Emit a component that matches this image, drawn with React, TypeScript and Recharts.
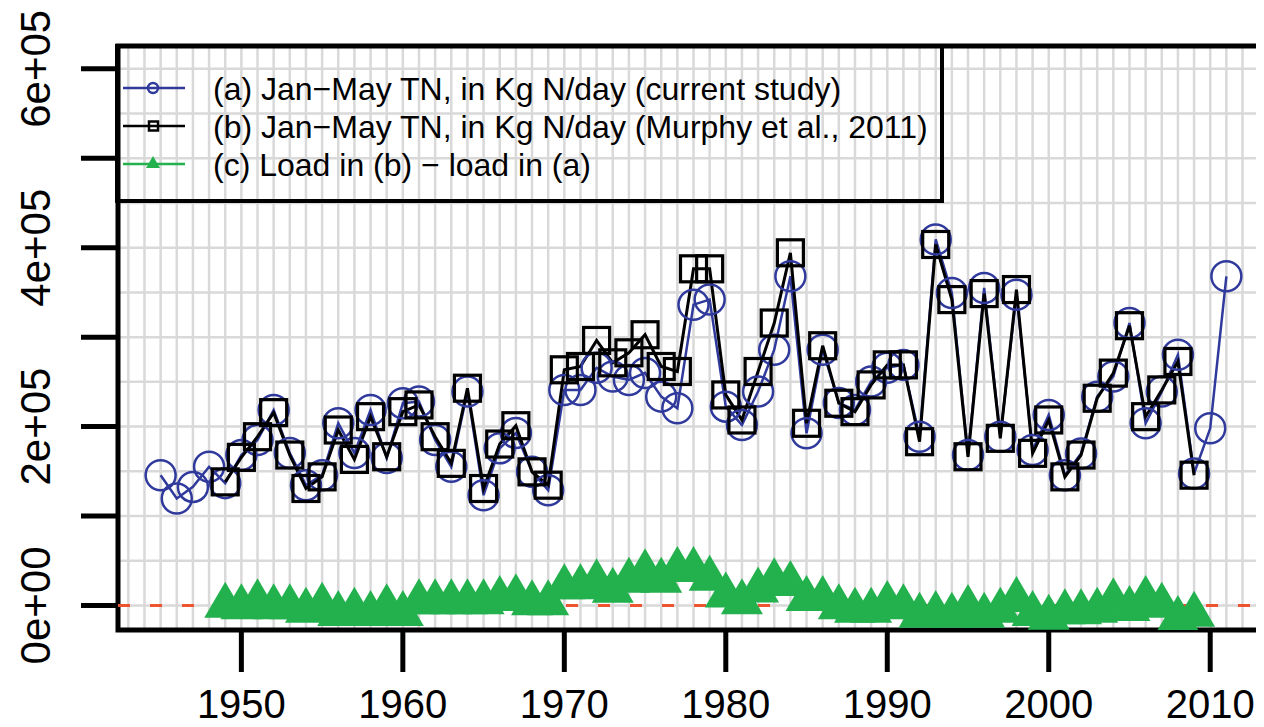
import React from 'react';
import { ComposedChart, Line, XAxis, YAxis, CartesianGrid, ReferenceArea, Legend } from 'recharts';

const FONT = '"Liberation Sans", Arial, Helvetica, sans-serif';
const BLUE = '#2f3a9c';
const BLACK = '#000000';
const GREEN = '#22b14c';
const RED = '#ef5430';

// (a) current study, Jan-May TN (kg N/day)
const yearsA = [1945, 1946, 1947, 1948, 1949, 1950, 1951, 1952, 1953, 1954, 1955, 1956, 1957, 1958, 1959, 1960,
  1961, 1962, 1963, 1964, 1965, 1966, 1967, 1968, 1969, 1970, 1971, 1972, 1973, 1974, 1975, 1976, 1977, 1978,
  1979, 1980, 1981, 1982, 1983, 1984, 1985, 1986, 1987, 1988, 1989, 1990, 1991, 1992, 1993, 1994, 1995, 1996,
  1997, 1998, 1999, 2000, 2001, 2002, 2003, 2004, 2005, 2006, 2007, 2008, 2009, 2010, 2011];
const loadA = [145700, 119600, 132600, 155100, 136800, 168200, 185000, 218600, 170400, 134500, 145700, 203700,
  170400, 218600, 164800, 226100, 228000, 185000, 155000, 239100, 123300, 175700, 192800, 149400, 128900,
  241000, 241000, 265700, 256000, 252200, 260000, 233500, 220500, 336300, 342000, 222300, 201800, 239100,
  285900, 368000, 192500, 285900, 226500, 218600, 250300, 265700, 269000, 188700, 409200, 349400, 168200,
  355000, 188700, 347500, 173800, 213000, 145700, 170000, 233500, 256000, 315800, 203700, 239100, 280300,
  147600, 198100, 368000];

// (b) Murphy et al., 2011
const yearsB = [1949, 1950, 1951, 1952, 1953, 1954, 1955, 1956, 1957, 1958, 1959, 1960, 1961, 1962, 1963, 1964,
  1965, 1966, 1967, 1968, 1969, 1970, 1971, 1972, 1973, 1974, 1975, 1976, 1977, 1978, 1979, 1980, 1981, 1982,
  1983, 1984, 1985, 1986, 1987, 1988, 1989, 1990, 1991, 1992, 1993, 1994, 1995, 1996, 1997, 1998, 1999, 2000,
  2001, 2002, 2003, 2004, 2005, 2006, 2007, 2008, 2009];
const loadB = [138200, 165600, 188700, 215600, 168200, 130800, 143800, 196200, 163300, 211100, 166300, 216700,
  224200, 188700, 158900, 242900, 130800, 180500, 201000, 149400, 134500, 263500, 267200, 296300, 271300,
  282500, 302700, 267200, 261600, 376400, 376400, 235400, 207400, 261600, 315800, 394300, 203700, 290400,
  226100, 216700, 246600, 269000, 269000, 183100, 403600, 342000, 166300, 348700, 186900, 353200, 170100,
  207400, 143800, 168200, 231700, 259800, 312800, 211100, 241000, 272800, 145700];

// (c) load in (b) - load in (a)
const yearsC = yearsB;
const diffC = [-200, -2000, 3600, -2000, -2000, -5800, -200, -9500, -5800, -9500, -2000, -9500, 3600, 3600, 3600,
  3600, 3600, 7300, 9200, 2500, 2500, 20400, 20400, 26000, 16600, 27800, 37300, 27800, 39800, 39800, 29800,
  11100, 3600, 16700, 27100, 24100, 7300, 7300, -2000, -5800, -5800, 1700, -2000, -11400, -9500, -11400, -2700,
  -11400, -5800, 6200, -9500, -13600, -7600, -7600, -5800, 4700, -3900, 7300, -200, -15100, -10300];

const X_DOMAIN = [1942.36, 2013.64];
const Y_DOMAIN = [-27400, 625500];
const xTicks = [1950, 1960, 1970, 1980, 1990, 2000, 2010];
const xTickLabels = ['1950', '1960', '1970', '1980', '1990', '2000', '2010'];
const yTicks = [0, 100000, 200000, 300000, 400000, 500000, 600000];
const yTickLabels = ['0e+00', '', '2e+05', '', '4e+05', '', '6e+05'];
const gridYears = [1943, 1944, 1945, 1946, 1947, 1948, 1949, 1950, 1951, 1952, 1953, 1954, 1955, 1956, 1957,
  1958, 1959, 1960, 1961, 1962, 1963, 1964, 1965, 1966, 1967, 1968, 1969, 1970, 1971, 1972, 1973, 1974, 1975,
  1976, 1977, 1978, 1979, 1980, 1981, 1982, 1983, 1984, 1985, 1986, 1987, 1988, 1989, 1990, 1991, 1992, 1993,
  1994, 1995, 1996, 1997, 1998, 1999, 2000, 2001, 2002, 2003, 2004, 2005, 2006, 2007, 2008, 2009, 2010, 2011,
  2012, 2013];
const gridLoads = [0, 50000, 100000, 150000, 200000, 250000, 300000, 350000, 400000, 450000, 500000, 550000, 600000];
const legendLabels = [
  '(a) Jan\u2212May TN, in Kg N/day (current study)',
  '(b) Jan\u2212May TN, in Kg N/day (Murphy et al., 2011)',
  '(c) Load in (b) \u2212 load in (a)',
];

const dataA = yearsA.map((year, i) => ({ year, v: loadA[i] }));
const dataB = yearsB.map((year, i) => ({ year, v: loadB[i] }));
const dataC = yearsC.map((year, i) => ({ year, v: diffC[i] }));
const zeroLine = X_DOMAIN.map((year) => ({ year, v: 0 }));

const CircleDot = (p: any) =>
  p.cx == null ? null : (
    <circle key={`a-${p.index}`} cx={p.cx} cy={p.cy} r={15} fill="none" stroke={BLUE} strokeWidth={2.5} />
  );
const SquareDot = (p: any) =>
  p.cx == null ? null : (
    <rect key={`b-${p.index}`} x={p.cx - 13} y={p.cy - 13} width={26} height={26} fill="none" stroke={BLACK} strokeWidth={3.2} />
  );
const TriangleDot = (p: any) =>
  p.cx == null ? null : (
    <polygon
      key={`c-${p.index}`}
      points={`${p.cx},${p.cy - 24} ${p.cx + 21},${p.cy + 12} ${p.cx - 21},${p.cy + 12}`}
      fill={GREEN}
      stroke="none"
    />
  );

const XTick = (p: any) => {
  const idx = xTicks.indexOf(p.payload.value);
  return (
    <text x={p.x} y={p.y} textAnchor="middle" fontSize={40} fontFamily={FONT} fill="#000">
      {idx >= 0 ? xTickLabels[idx] : ''}
    </text>
  );
};

const YTick = (p: any) => {
  const idx = yTicks.indexOf(p.payload.value);
  const label = idx >= 0 ? yTickLabels[idx] : '';
  if (!label) return <g />;
  return (
    <text
      x={p.x}
      y={p.y}
      textAnchor="middle"
      fontSize={42}
      fontFamily={FONT}
      fill="#000"
      transform={`rotate(-90, ${p.x}, ${p.y})`}
    >
      {label}
    </text>
  );
};

const LegendBox = () => {
  const rows = [40, 78, 116];
  return (
    <div style={{ width: 829, height: 159, border: '4px solid #000', boxSizing: 'border-box' }}>
      <svg width={821} height={151} style={{ display: 'block' }}>
        {rows.map((cy, i) => {
          const color = i === 0 ? BLUE : i === 1 ? BLACK : GREEN;
          return (
            <g key={i}>
              <line x1={4} x2={66} y1={cy} y2={cy} stroke={color} strokeWidth={2.5} />
              {i === 0 && <circle cx={34} cy={cy} r={5} fill="none" stroke={BLUE} strokeWidth={2.5} />}
              {i === 1 && <rect x={30} y={cy - 4.5} width={9} height={9} fill="none" stroke={BLACK} strokeWidth={2.5} />}
              {i === 2 && (
                <polygon points={`34,${cy - 8} 41,${cy + 4} 27,${cy + 4}`} fill={GREEN} />
              )}
              <text x={94} y={cy + 11.5} fontSize={32} fontFamily={FONT} fill="#000">
                {legendLabels[i]}
              </text>
            </g>
          );
        })}
      </svg>
    </div>
  );
};

export default function App() {
  return (
    <div style={{ width: 1256, height: 719, overflow: 'hidden', background: '#fff' }}>
      <ComposedChart
        width={1266}
        height={719}
        margin={{ top: 38, right: 5, bottom: 0, left: 0 }}
        style={{ fontFamily: FONT }}
      >
        <CartesianGrid
          stroke="#d9d9d9"
          strokeWidth={2.5}
          verticalValues={gridYears}
          horizontalValues={gridLoads}
        />
        <XAxis
          dataKey="year"
          type="number"
          domain={X_DOMAIN}
          allowDataOverflow
          ticks={xTicks}
          interval={0}
          height={97}
          axisLine={false}
          tickLine={{ stroke: '#000', strokeWidth: 5 }}
          tickSize={42}
          tickMargin={46}
          tick={<XTick />}
        />
        <YAxis
          type="number"
          domain={Y_DOMAIN}
          allowDataOverflow
          ticks={yTicks}
          interval={0}
          width={110}
          axisLine={false}
          tickLine={{ stroke: '#000', strokeWidth: 5 }}
          tickSize={37}
          tickMargin={31}
          tick={<YTick />}
        />
        <Line
          data={zeroLine}
          dataKey="v"
          stroke={RED}
          strokeWidth={3}
          strokeDasharray="12 20"
          dot={false}
          activeDot={false}
          isAnimationActive={false}
          legendType="none"
        />
        <Line
          data={dataA}
          dataKey="v"
          name="a"
          stroke={BLUE}
          strokeWidth={2.5}
          dot={CircleDot}
          activeDot={false}
          isAnimationActive={false}
        />
        <Line
          data={dataB}
          dataKey="v"
          name="b"
          stroke={BLACK}
          strokeWidth={3}
          dot={SquareDot}
          activeDot={false}
          isAnimationActive={false}
        />
        <Line
          data={dataC}
          dataKey="v"
          name="c"
          stroke={GREEN}
          strokeWidth={2.5}
          dot={TriangleDot}
          activeDot={false}
          isAnimationActive={false}
        />
        <ReferenceArea
          x1={X_DOMAIN[0]}
          x2={X_DOMAIN[1]}
          y1={Y_DOMAIN[0]}
          y2={Y_DOMAIN[1]}
          fill="none"
          fillOpacity={0}
          stroke="#000"
          strokeWidth={5}
          ifOverflow="visible"
        />
        <Legend
          layout="horizontal"
          verticalAlign="middle"
          align="center"
          content={() => <LegendBox />}
          wrapperStyle={{ left: 107, top: 36, width: 829, height: 159 }}
        />
      </ComposedChart>
    </div>
  );
}
